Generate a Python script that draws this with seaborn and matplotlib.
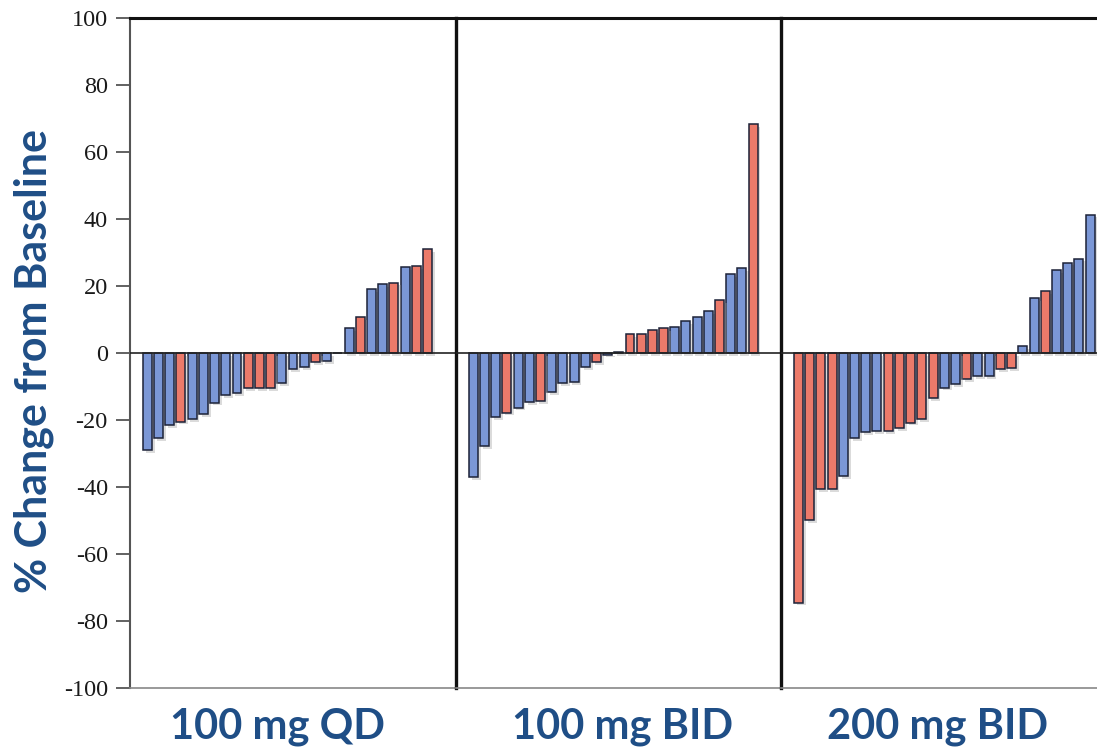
import matplotlib
matplotlib.use("Agg")
import matplotlib.pyplot as plt
import matplotlib.patheffects as pe
import seaborn as sns
import pandas as pd

# % change from baseline per patient, sorted
qd100_vals = [-29, -25.3, -21.5, -20.5, -19.8, -18.3, -14.8, -12.6, -12, -10.4, -10.4, -10.4,
              -8.9, -4.8, -4.2, -2.7, -2.5, 0, 7.4, 10.8, 19, 20.5, 21, 25.7, 25.9, 31]
qd100_grp = ["B", "B", "B", "R", "B", "B", "B", "B", "B", "R", "R", "R",
             "B", "B", "B", "R", "B", "B", "B", "R", "B", "B", "R", "B", "R", "R"]

bid100_vals = [-37, -27.8, -19.1, -17.8, -16.3, -14.6, -14.3, -11.6, -8.9, -8.7, -4.3, -2.8,
               -0.5, 0.4, 5.7, 5.8, 6.9, 7.4, 7.7, 9.5, 10.7, 12.5, 15.7, 23.5, 25.4, 68.3]
bid100_grp = ["B", "B", "B", "R", "B", "B", "R", "B", "B", "B", "B", "R",
              "B", "B", "R", "R", "R", "R", "B", "B", "B", "B", "R", "B", "B", "R"]

bid200_vals = [-74.5, -49.9, -40.7, -40.7, -36.7, -25.3, -23.6, -23.4, -23.3, -22.5, -20.8, -19.8,
               -13.5, -10.3, -9.4, -7.7, -6.9, -6.9, -4.9, -4.4, 2.1, 16.3, 18.5, 24.7, 27, 28.2, 41.3]
bid200_grp = ["R", "R", "R", "R", "B", "B", "B", "B", "R", "R", "R", "R",
              "R", "B", "B", "R", "B", "B", "R", "R", "B", "B", "R", "B", "B", "B", "B"]

panel_labels = ["100 mg QD", "100 mg BID", "200 mg BID"]
y_ticks = [-100, -80, -60, -40, -20, 0, 20, 40, 60, 80, 100]

palette = {"B": "#7B97D6", "R": "#EC7A6A"}
text_blue = "#1F4E86"

sns.set_style("white")
plt.rcParams["axes.unicode_minus"] = False

fig = plt.figure(figsize=(10.97, 7.51), dpi=100)

bottom, height = 0.0839, 0.8921
panels = [
    (qd100_vals, qd100_grp, 0.1185, 0.2972, 27.55),
    (bid100_vals, bid100_grp, 0.4157, 0.2963, 27.5),
    (bid200_vals, bid200_grp, 0.7119, 0.2890, 26.7),
]

axes = []
for i, (vals, grp, left, width, xmax) in enumerate(panels):
    ax = fig.add_axes([left, bottom, width, height])
    df = pd.DataFrame({"pt": range(len(vals)), "chg": vals, "grp": grp})
    sns.barplot(data=df, x="pt", y="chg", hue="grp", palette=palette, dodge=False,
                width=0.8, legend=False, edgecolor="#1c2238", linewidth=1.1, ax=ax,
                errorbar=None, saturation=1, zorder=3)
    for p in ax.patches:
        p.set_path_effects([pe.SimplePatchShadow(offset=(2, -2), shadow_rgbFace="#999999", alpha=0.35),
                            pe.Normal()])
    ax.axhline(0, color="#222222", lw=1.2, zorder=4)
    ax.set_xlim(-1.55, xmax)
    ax.set_ylim(-100, 100)
    ax.set_xlabel("")
    ax.set_ylabel("")
    ax.set_xticks([])

    ax.spines["top"].set_color("#111111")
    ax.spines["top"].set_linewidth(2.2)
    ax.spines["bottom"].set_color("#888888")
    ax.spines["bottom"].set_linewidth(1.2)
    ax.spines["right"].set_visible(False)
    if i == 0:
        ax.spines["left"].set_color("#555555")
        ax.spines["left"].set_linewidth(1.5)
        ax.set_yticks(y_ticks)
        ax.tick_params(axis="y", direction="out", length=10, width=1.3, color="#555555",
                       pad=6, labelsize=17.5, left=True)
        for lab in ax.get_yticklabels():
            lab.set_fontfamily("Liberation Serif")
            lab.set_color("#1a1a1a")
    else:
        ax.spines["left"].set_color("#111111")
        ax.spines["left"].set_linewidth(2.4)
        ax.set_yticks([])
    axes.append(ax)

label_x = [278 / 1097, 623 / 1097, 938 / 1097]
for x, lab in zip(label_x, panel_labels):
    fig.text(x, 1 - 727 / 751, lab, ha="center", va="center", fontsize=30,
             fontweight="bold", color=text_blue, family=["Lato", "DejaVu Sans"])

fig.text(34 / 1097, 1 - 361 / 751, "% Change from Baseline", rotation=90, ha="center",
         va="center", fontsize=31, fontweight="bold", color=text_blue,
         family=["Lato", "DejaVu Sans"])

fig.savefig("out.png", dpi=100)
